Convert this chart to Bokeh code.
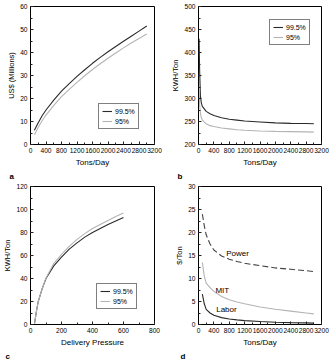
from bokeh.plotting import figure
from bokeh.layouts import gridplot
from bokeh.models import Range1d, SingleIntervalTicker, Legend, LegendItem, Title, Label
from bokeh.embed import file_html
from bokeh.resources import INLINE

FONT = "Liberation Sans"
TXT = "black"
DARK = "#2a2a2a"
LIGHT = "#b4b4b4"

# ---- panel a: capital cost vs capacity ----
a_x = [100, 200, 300, 400, 600, 800, 1000, 1200, 1400, 1600, 1800, 2000, 2200, 2400, 2600, 2800, 3000]
a_995 = [6.2, 9.5, 12.5, 15.0, 19.3, 23.2, 26.5, 29.6, 32.5, 35.3, 37.9, 40.3, 42.6, 44.9, 47.1, 49.3, 51.5]
a_95 = [4.2, 7.5, 10.3, 12.8, 17.0, 20.8, 24.0, 27.0, 29.9, 32.6, 35.1, 37.5, 39.8, 42.0, 44.1, 46.1, 48.0]

# ---- panel b: power vs capacity ----
b_x = [15, 30, 50, 75, 100, 200, 300, 400, 600, 800, 1000, 1200, 1600, 2000, 2400, 2800, 3000]
b_995 = [430, 360, 305, 290, 283, 272, 267, 263, 258, 255, 253, 251, 249, 247, 246, 245.5, 245]
b_95 = [320, 285, 268, 258, 253, 245, 241, 239, 236, 234, 232, 231, 229.5, 228.5, 228, 227.5, 227]

# ---- panel c: power vs delivery pressure ----
c_x = [25, 40, 50, 75, 100, 150, 200, 250, 300, 350, 400, 450, 500, 550, 600]
c_995 = [0, 13, 20, 31, 40, 51, 58.5, 65.5, 71, 76, 80, 83.5, 87, 90, 93]
c_95 = [0, 13, 20, 31, 40.5, 53, 61, 68, 74, 79, 83.5, 87, 90.5, 94, 97]

# ---- panel d: cost components ----
d_x = [100, 150, 200, 300, 400, 600, 800, 1000, 1200, 1600, 2000, 2400, 2800, 3000]
d_power = [24, 21.5, 19.5, 17.5, 16.2, 14.9, 14.2, 13.7, 13.3, 12.8, 12.3, 12.0, 11.7, 11.5]
d_mit = [13.5, 10.5, 9.0, 8.0, 7.2, 6.1, 5.4, 4.9, 4.5, 3.8, 3.3, 2.9, 2.5, 2.3]
d_labor = [6.6, 4.5, 3.3, 2.5, 2.0, 1.5, 1.2, 1.0, 0.85, 0.65, 0.5, 0.4, 0.35, 0.3]

series_names = ["99.5%", "95%"]


def make_fig(xr, yr, xint, yint, xlabel, ylabel, letter, bl, br, bt, bb, letter_off):
    p = figure(width=168, height=182, output_backend="svg", toolbar_location=None,
               x_range=Range1d(*xr), y_range=Range1d(*yr),
               min_border_left=bl, min_border_right=br, min_border_top=bt, min_border_bottom=bb)
    p.grid.visible = False
    p.outline_line_color = "black"
    p.outline_line_width = 1
    p.outline_line_alpha = 1
    p.background_fill_color = "white"
    p.border_fill_color = "white"
    p.xaxis.ticker = SingleIntervalTicker(interval=xint, num_minor_ticks=2)
    p.yaxis.ticker = SingleIntervalTicker(interval=yint, num_minor_ticks=2)
    for ax in (p.xaxis, p.yaxis):
        ax.axis_line_color = "black"
        ax.major_tick_in = 3
        ax.major_tick_out = 0
        ax.minor_tick_in = 2
        ax.minor_tick_out = 0
        ax.major_tick_line_color = "#222222"
        ax.minor_tick_line_color = "#222222"
        ax.major_label_text_font = FONT
        ax.major_label_text_font_size = "6.6px"
        ax.major_label_text_color = TXT
        ax.major_label_standoff = 3
        ax.axis_label_text_font = FONT
        ax.axis_label_text_font_style = "normal"
        ax.axis_label_text_color = TXT
        ax.axis_label_standoff = 2
    p.xaxis.axis_label = xlabel
    p.yaxis.axis_label = ylabel
    p.xaxis.axis_label_text_font_size = "8px"
    p.yaxis.axis_label_text_font_size = "7.5px"
    p.yaxis.axis_label_standoff = 1
    p.add_layout(Title(text=letter, align="left", text_font=FONT, text_font_size="8px",
                       text_font_style="bold", text_color=TXT, offset=letter_off, standoff=0), "below")
    return p


def add_legend(p, r1, r2, loc):
    lg = Legend(items=[LegendItem(label=series_names[0], renderers=[r1]),
                       LegendItem(label=series_names[1], renderers=[r2])],
                location=loc, border_line_color="black", border_line_width=1,
                label_text_font=FONT, label_text_font_size="7px", label_text_color=TXT,
                label_height=8, glyph_height=8, glyph_width=10, label_standoff=3,
                padding=3, spacing=2, margin=0, background_fill_color="white",
                background_fill_alpha=1)
    p.add_layout(lg, "center")


# panel a
pa = make_fig((0, 3200), (0, 60), 400, 10, "Tons/Day", "US$ (Millions)", "a", 26, 14, 5, 38, -21)
ra1 = pa.line(a_x, a_995, line_color=DARK, line_width=1.1)
ra2 = pa.line(a_x, a_95, line_color=LIGHT, line_width=1.1)
add_legend(pa, ra1, ra2, (68, 15))

# panel b
pb = make_fig((0, 3200), (200, 500), 400, 50, "Tons/Day", "KWH/Ton", "b", 29, 14, 6, 38, -21)
rb1 = pb.line(b_x, b_995, line_color=DARK, line_width=1.1)
rb2 = pb.line(b_x, b_95, line_color=LIGHT, line_width=1.1)
add_legend(pb, rb1, rb2, (71, 99))

# panel c
pc = make_fig((0, 800), (0, 120), 200, 20, "Delivery Pressure", "KWH/Ton", "c", 30, 14, 4, 40, -25)
rc1 = pc.line(c_x, c_995, line_color=DARK, line_width=1.1)
rc2 = pc.line(c_x, c_95, line_color=LIGHT, line_width=1.1)
add_legend(pc, rc1, rc2, (66, 15))

# panel d
pd_ = make_fig((0, 3200), (0, 30), 400, 5, "Tons/Day", "$/Ton", "d", 23, 15, 4, 40, -18)
pd_.line(d_x, d_power, line_color="#444444", line_width=1.1, line_dash="6 3")
pd_.line(d_x, d_mit, line_color=LIGHT, line_width=1.1)
pd_.line(d_x, d_labor, line_color=DARK, line_width=1.1)
for txt, x, y in (("Power", 720, 15.4), ("MIT", 440, 7.5), ("Labor", 460, 3.2)):
    pd_.add_layout(Label(x=x, y=y, text=txt, text_font=FONT, text_font_size="8px",
                         text_color="black", text_baseline="middle", text_align="left"))

grid = gridplot([[pa, pb], [pc, pd_]], toolbar_location=None)

open("out.html", "w").write(file_html(grid, INLINE))
